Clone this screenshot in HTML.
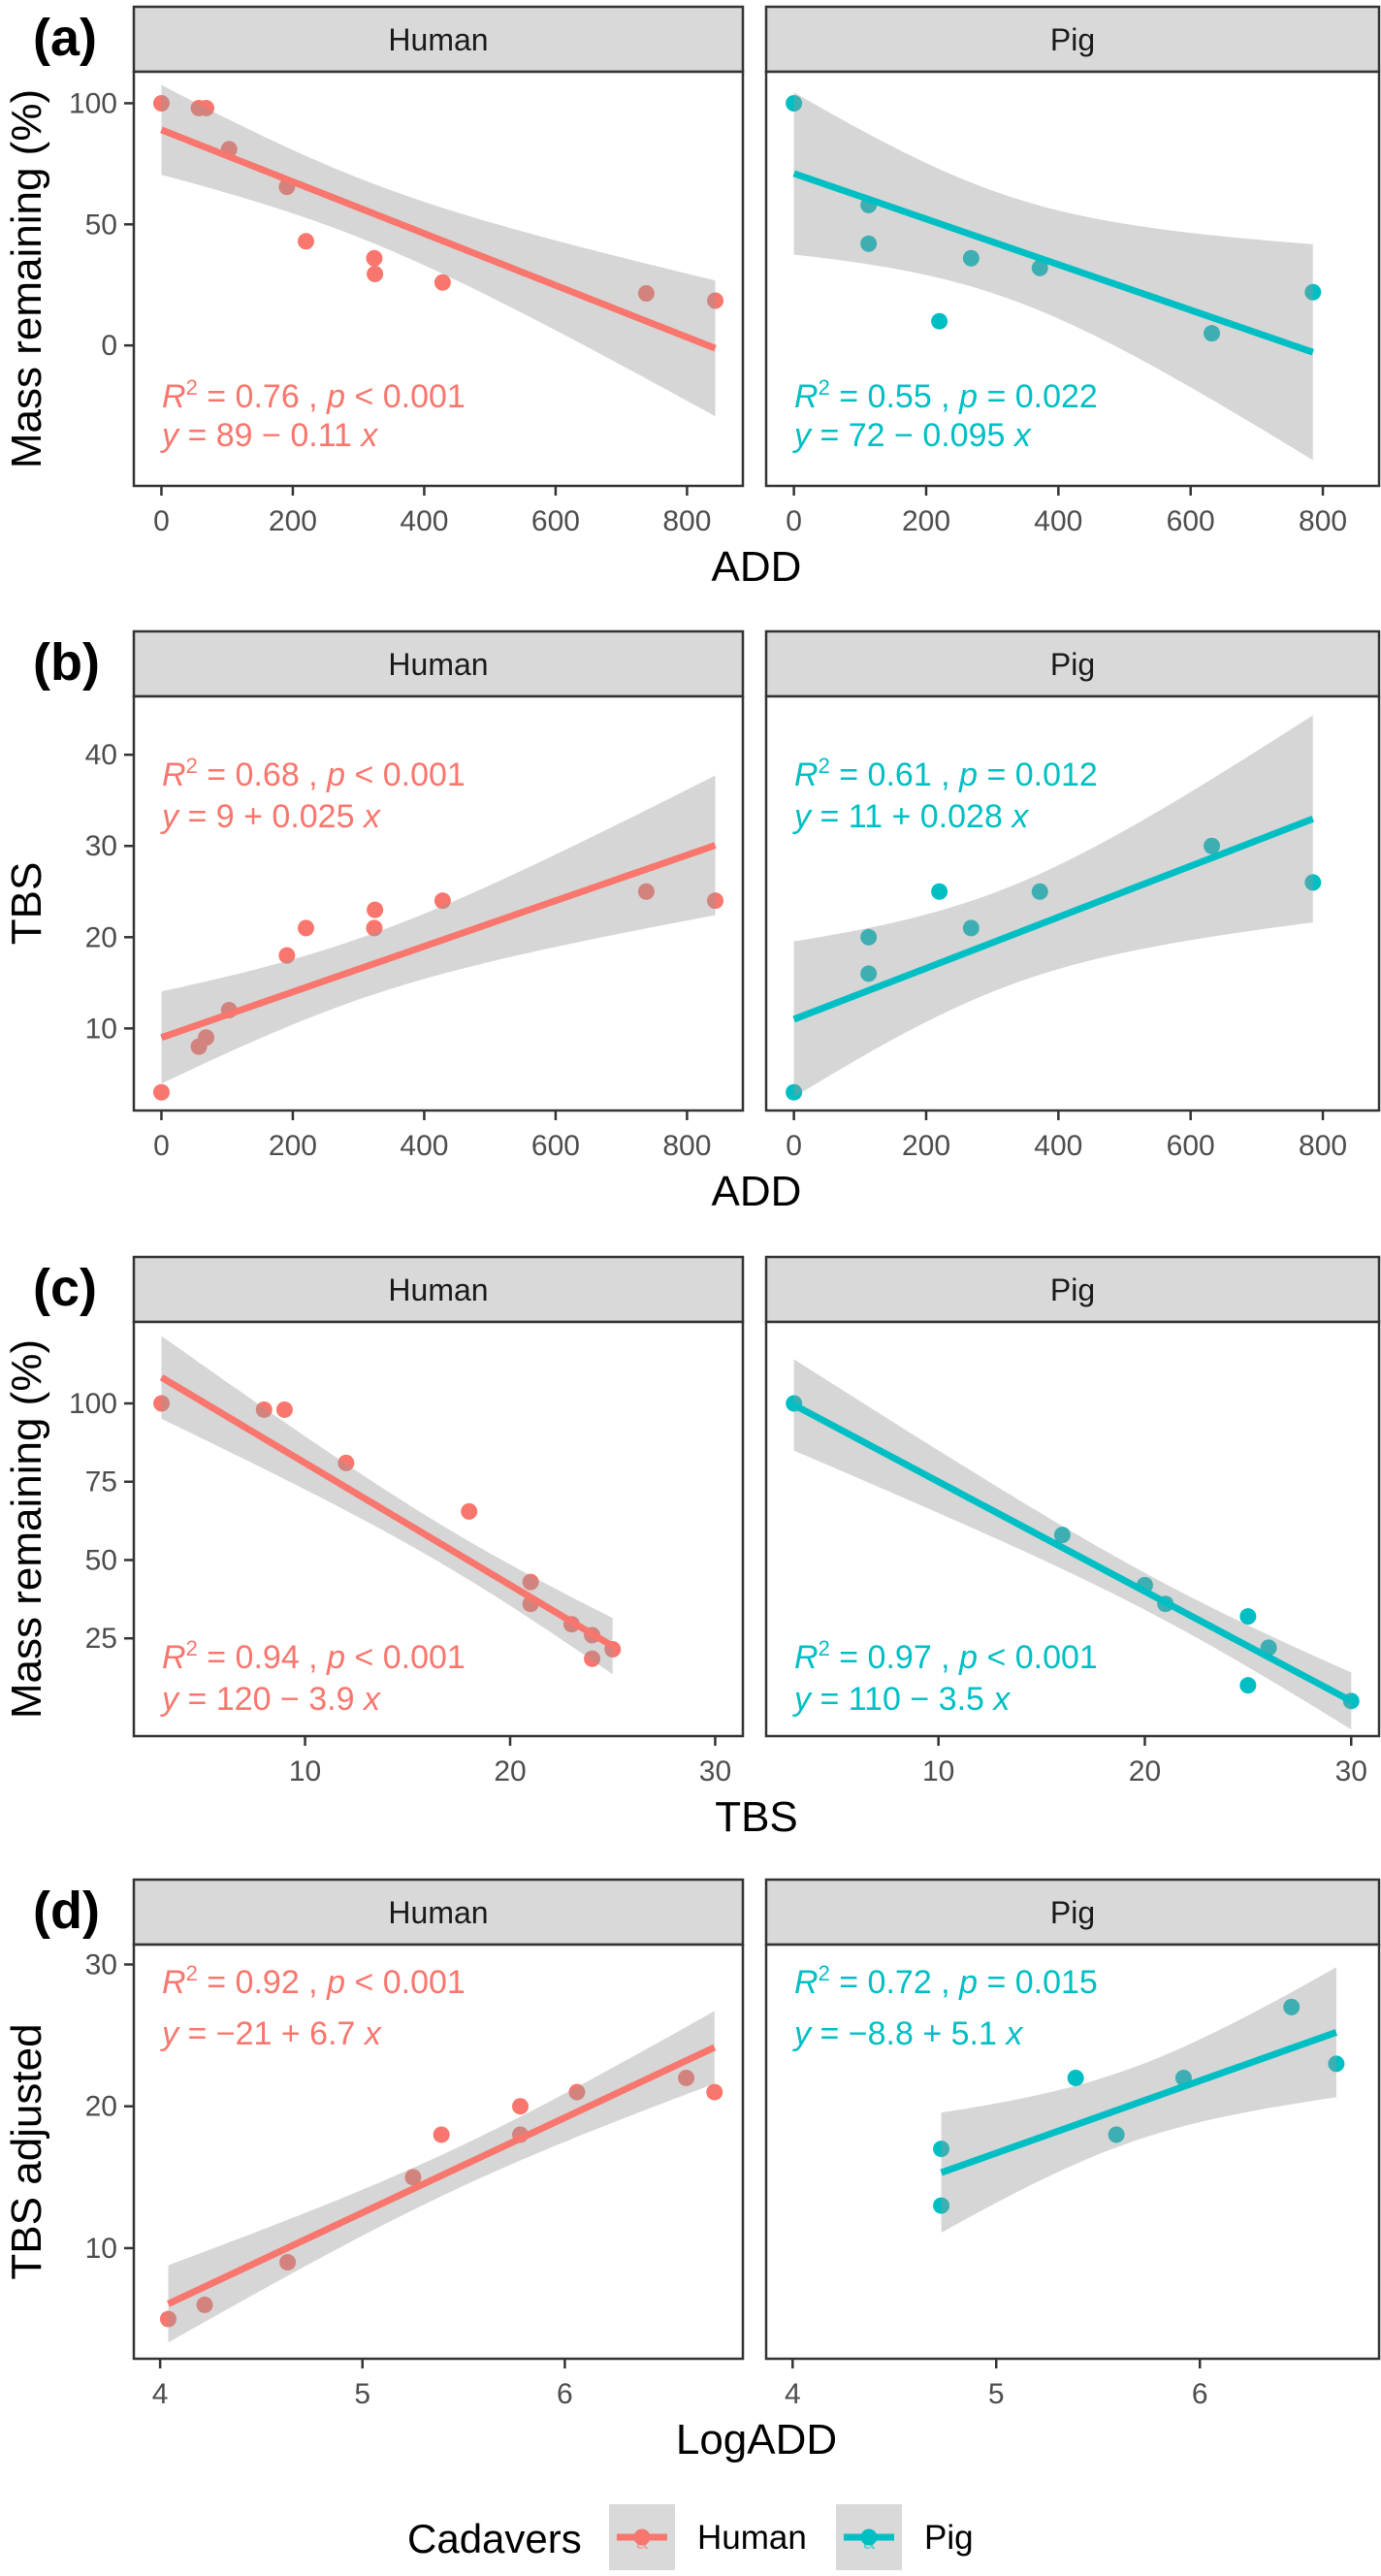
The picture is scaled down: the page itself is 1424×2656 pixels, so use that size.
<!DOCTYPE html>
<html><head><meta charset="utf-8">
<style>
html,body{margin:0;padding:0;background:#fff;}
svg{display:block;font-family:"Liberation Sans",Arial,sans-serif;}
</style></head>
<body>
<svg id="fig" width="1424" height="2656" viewBox="0 0 1424 2656" xmlns="http://www.w3.org/2000/svg"></svg>
<script>
// ---- data ----
const humanADD = [0, 57, 68, 103, 191, 220, 324, 325, 428, 738, 843];
const humanMass = [100, 98, 98, 81, 65.5, 43, 36, 29.5, 26, 21.5, 18.5];
const humanTBS = [3, 8, 9, 12, 18, 21, 21, 23, 24, 25, 24];
const humanLogADD = [4.04, 4.22, 4.63, 5.25, 5.39, 5.78, 5.78, 6.06, 6.60, 6.74];
const humanTBSadj = [5, 6, 9, 15, 18, 20, 18, 21, 22, 21];

const pigADD = [0, 113, 113, 220, 268, 372, 632, 785];
const pigMass = [100, 58, 42, 10, 36, 32, 5, 22];
const pigTBS = [3, 16, 20, 25, 21, 25, 30, 26];
const pigLogADD = [4.73, 4.73, 5.39, 5.59, 5.92, 6.45, 6.67];
const pigTBSadj = [17, 13, 22, 18, 22, 27, 23];

// fitted coefficients [intercept, slope] as shown in the figure
const coefA = [[89, -0.107], [71, -0.094]];
const coefB = [[9, 0.025], [11, 0.028]];
const coefC = [[120, -3.9], [110, -3.5]];
const coefD = [[-21, 6.7], [-8.8, 5.1]];

const statsA = [["0.76", "<", "0.001", "89", "\u2212", "0.11"], ["0.55", "=", "0.022", "72", "\u2212", "0.095"]];
const statsB = [["0.68", "<", "0.001", "9", "+", "0.025"], ["0.61", "=", "0.012", "11", "+", "0.028"]];
const statsC = [["0.94", "<", "0.001", "120", "\u2212", "3.9"], ["0.97", "<", "0.001", "110", "\u2212", "3.5"]];
const statsD = [["0.92", "<", "0.001", "\u221221", "+", "6.7"], ["0.72", "=", "0.015", "\u22128.8", "+", "5.1"]];

const ticksADD = [0, 200, 400, 600, 800];
const ticksMassA = [0, 50, 100];
const ticksTBSy = [10, 20, 30, 40];
const ticksMassC = [25, 50, 75, 100];
const ticksTBSx = [10, 20, 30];
const ticksAdjY = [10, 20, 30];
const ticksLog = [4, 5, 6];

// ---- layout ----
const NS = "http://www.w3.org/2000/svg";
const svg = document.getElementById("fig");
const COL = ["#F8766D", "#00BFC4"];
const PX = [[138, 766], [790, 1422]];
const TQ = {4: 2.776, 5: 2.571, 6: 2.447, 7: 2.365, 8: 2.306, 9: 2.262};

function el(tag, attrs, parent) {
  const e = document.createElementNS(NS, tag);
  for (const k in attrs) e.setAttribute(k, attrs[k]);
  (parent || svg).appendChild(e);
  return e;
}

const rows = [
  {T: 7, lab: "(a)", xs: [humanADD, pigADD], ys: [humanMass, pigMass], cf: coefA, xd: [[-42, 885], [-42, 885]], yd: [-58, 113],
   xt: ticksADD, yt: ticksMassA, xtitle: "ADD", ytitle: "Mass remaining (%)", st: statsA, ty: [413, 453]},
  {T: 651, lab: "(b)", xs: [humanADD, pigADD], ys: [humanTBS, pigTBS], cf: coefB, xd: [[-42, 885], [-42, 885]], yd: [1.0, 46.4],
   xt: ticksADD, yt: ticksTBSy, xtitle: "ADD", ytitle: "TBS", st: statsB, ty: [159, 202]},
  {T: 1296, lab: "(c)", xs: [humanTBS, pigTBS], ys: [humanMass, pigMass], cf: coefC, xd: [[1.65, 31.35], [1.65, 31.35]], yd: [-6.2, 126],
   xt: ticksTBSx, yt: ticksMassC, xtitle: "TBS", ytitle: "Mass remaining (%)", st: statsC, ty: [424, 467]},
  {T: 1938, lab: "(d)", xs: [humanLogADD, pigLogADD], ys: [humanTBSadj, pigTBSadj], cf: coefD, xd: [[3.87, 6.88], [3.87, 6.88]], yd: [2.2, 31.4],
   xt: ticksLog, yt: ticksAdjY, xtitle: "LogADD", ytitle: "TBS adjusted", st: statsD, ty: [117, 170]}
];
const names = ["human", "pig"];
const SH = 67, PH = 427;

function fit(xs, ys, cf) {
  const n = xs.length;
  const mx = xs.reduce((a, b) => a + b, 0) / n;
  let sxx = 0, sse = 0;
  for (let i = 0; i < n; i++) { sxx += (xs[i] - mx) ** 2; sse += (ys[i] - cf[0] - cf[1] * xs[i]) ** 2; }
  const s = Math.sqrt(sse / (n - 2));
  return {a: cf[0], b: cf[1], s, n, mx, sxx};
}

rows.forEach((r, ri) => {
  const top = r.T + SH, bot = r.T + SH + PH;
  const Y = v => bot - (v - r.yd[0]) / (r.yd[1] - r.yd[0]) * PH;
  const rowG = el("g", {});  
  const lab = el("text", {x: 34, y: r.T + 50, "font-size": 54, "font-weight": "bold", fill: "#000"}, rowG);
  lab.textContent = r.lab;
   
  const cy = (top + bot) / 2;
  const yt = el("text", {x: 0, y: 0, "font-size": 44, "text-anchor": "middle", fill: "#000", transform: `translate(42,${cy}) rotate(-90)`}, rowG);
  yt.textContent = r.ytitle;
   
  r.yt.forEach(t => {
    const yy = Y(t);
    el("line", {x1: 128, x2: 138, y1: yy, y2: yy, stroke: "#333", "stroke-width": 2.5}, rowG);
    const tl = el("text", {x: 121, y: yy + 10, "font-size": 30, "text-anchor": "end", fill: "#4d4d4d"}, rowG);
    tl.textContent = t;
     
  });
  const xt = el("text", {x: 780, y: r.T + 592, "font-size": 44, "text-anchor": "middle", fill: "#000"}, rowG);
  xt.textContent = r.xtitle;
   

  [0, 1].forEach(p => {
    const [L, R] = PX[p];
    const xd = r.xd[p];
    const X = v => L + (v - xd[0]) / (xd[1] - xd[0]) * (R - L);
    const g = el("g", {}, rowG);
     
    const st = el("rect", {x: L, y: r.T, width: R - L, height: SH, fill: "#d9d9d9", stroke: "#333", "stroke-width": 2.5}, g);
     
    const stt = el("text", {x: (L + R) / 2, y: r.T + 45, "font-size": 32, "text-anchor": "middle", fill: "#1a1a1a"}, g);
    stt.textContent = p ? "Pig" : "Human";
     
    el("rect", {x: L, y: top, width: R - L, height: PH, fill: "#fff"}, g);
    const clipId = "c" + ri + p;
    const cp = el("clipPath", {id: clipId}, g);
    el("rect", {x: L, y: top, width: R - L, height: PH}, cp);
    const dg = el("g", {"clip-path": `url(#${clipId})`}, g);
    const xs = r.xs[p], ys = r.ys[p], c = COL[p];
    xs.forEach((xv, i) => {
      const pt = el("circle", {cx: X(xv), cy: Y(ys[i]), r: 8.5, fill: c}, dg);
       
    });
    const f = fit(xs, ys, r.cf[p]);
    const t = TQ[f.n - 2];
    const x0 = Math.min(...xs), x1 = Math.max(...xs);
    const up = [], lo = [];
    for (let k = 0; k <= 80; k++) {
      const xv = x0 + (x1 - x0) * k / 80;
      const yh = f.a + f.b * xv;
      const se = f.s * Math.sqrt(1 / f.n + (xv - f.mx) ** 2 / f.sxx);
      up.push(X(xv).toFixed(1) + "," + Y(yh + t * se).toFixed(1));
      lo.unshift(X(xv).toFixed(1) + "," + Y(yh - t * se).toFixed(1));
    }
    const band = el("polygon", {points: up.concat(lo).join(" "), fill: "rgba(153,153,153,0.4)"}, dg);
     
    const ln = el("line", {x1: X(x0), y1: Y(f.a + f.b * x0), x2: X(x1), y2: Y(f.a + f.b * x1), stroke: c, "stroke-width": 7}, dg);
     
    el("rect", {x: L, y: top, width: R - L, height: PH, fill: "none", stroke: "#333", "stroke-width": 2.5}, g);
    r.xt.forEach(tv => {
      const xx = X(tv);
      el("line", {x1: xx, x2: xx, y1: bot, y2: bot + 10, stroke: "#333", "stroke-width": 2.5}, g);
      const tl = el("text", {x: xx, y: r.T + 540, "font-size": 30, "text-anchor": "middle", fill: "#4d4d4d"}, g);
      tl.textContent = tv;
       
    });
    const s = r.st[p];
    const tx = L + 29;
    const t1 = el("text", {x: tx, y: r.T + r.ty[0], "font-size": 34, fill: c}, g);
    t1.innerHTML = `<tspan font-style="italic">R</tspan><tspan dy="-13" font-size="22">2</tspan><tspan dy="13"> = ${s[0]} , </tspan><tspan font-style="italic">p</tspan><tspan> ${s[1]} ${s[2]}</tspan>`;
     
    const t2 = el("text", {x: tx, y: r.T + r.ty[1], "font-size": 34, fill: c}, g);
    t2.innerHTML = `<tspan font-style="italic">y</tspan><tspan> = ${s[3]} ${s[4]} ${s[5]} </tspan><tspan font-style="italic">x</tspan>`;
     
  });
});

// ---- legend ----
const lg = el("g", {});
 
const lt = el("text", {x: 420, y: 2632, "font-size": 42, fill: "#000"}, lg);
lt.textContent = "Cadavers";
 
[[628, "Human", 719], [862, "Pig", 953]].forEach((d, i) => {
  const e = el("g", {}, lg);
   
  el("rect", {x: d[0], y: 2582, width: 68, height: 68, fill: "#d9d9d9"}, e);
  el("circle", {cx: d[0] + 34, cy: 2616, r: 8.5, fill: COL[i]}, e);
  el("line", {x1: d[0] + 8, x2: d[0] + 60, y1: 2616, y2: 2616, stroke: COL[i], "stroke-width": 7}, e);
  const a = el("text", {x: d[0] + 34, y: 2628, "font-size": 22, "text-anchor": "middle", fill: COL[i], opacity: 0.6}, e);
  a.textContent = "a";
  const tt = el("text", {x: d[2], y: 2628, "font-size": 35, fill: "#000"}, e);
  tt.textContent = d[1];
});
</script>
</body></html>
